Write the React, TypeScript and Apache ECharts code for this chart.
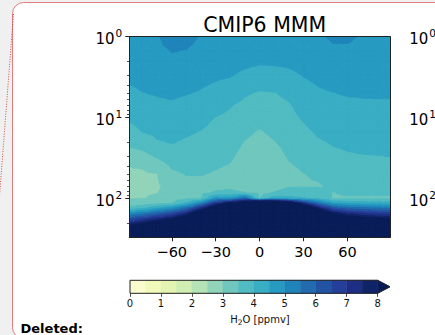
import React, { useEffect, useRef } from "react";
import * as echarts from "echarts";

const FONT = '"DejaVu Sans", sans-serif';

// Grid of the zonal-mean H2O field (ppmv): latitude x pressure (hPa)
const latitudes = [-90, -80, -70, -60, -50, -40, -30, -20, -10, 0, 10, 20, 30, 40, 50, 60, 70, 80, 90];
const pressureLevels = [1, 1.5, 2, 3, 5, 7, 10, 15, 20, 30, 40, 50, 70, 85, 100, 115, 130, 150, 175, 200, 250, 300];

const h2o_p1 = [4.9, 4.9, 4.95, 5.3, 5.2, 4.95, 4.9, 4.9, 4.9, 4.9, 4.9, 4.9, 4.9, 4.9, 5.08, 5.08, 4.95, 4.9, 4.9];
const h2o_p1_5 = [4.78, 4.8, 4.85, 5.02, 4.98, 4.83, 4.78, 4.76, 4.73, 4.71, 4.71, 4.72, 4.76, 4.79, 4.91, 4.91, 4.85, 4.81, 4.81];
const h2o_p2 = [4.7, 4.72, 4.77, 4.91, 4.87, 4.74, 4.69, 4.66, 4.61, 4.57, 4.58, 4.6, 4.66, 4.71, 4.81, 4.82, 4.77, 4.74, 4.75];
const h2o_p3 = [4.59, 4.62, 4.67, 4.76, 4.71, 4.62, 4.57, 4.53, 4.41, 4.31, 4.33, 4.4, 4.52, 4.6, 4.67, 4.69, 4.67, 4.65, 4.65];
const h2o_p5 = [4.4, 4.49, 4.53, 4.57, 4.52, 4.46, 4.36, 4.24, 4.05, 3.95, 3.98, 4.1, 4.32, 4.44, 4.49, 4.53, 4.54, 4.54, 4.54];
const h2o_p7 = [4.23, 4.34, 4.42, 4.44, 4.38, 4.31, 4.18, 4.03, 3.89, 3.8, 3.86, 3.96, 4.19, 4.33, 4.38, 4.42, 4.44, 4.45, 4.45];
const h2o_p10 = [4.06, 4.18, 4.27, 4.31, 4.23, 4.15, 3.99, 3.9, 3.75, 3.64, 3.73, 3.86, 4.05, 4.2, 4.27, 4.31, 4.33, 4.34, 4.34];
const h2o_p15 = [3.8, 4.01, 4.1, 4.15, 4.06, 3.98, 3.86, 3.78, 3.59, 3.46, 3.59, 3.74, 3.9, 4.06, 4.14, 4.18, 4.2, 4.21, 4.22];
const h2o_p20 = [3.61, 3.73, 3.96, 4.03, 3.94, 3.87, 3.76, 3.69, 3.48, 3.35, 3.48, 3.66, 3.81, 3.95, 4.04, 4.09, 4.11, 4.12, 4.13];
const h2o_p30 = [3.27, 3.33, 3.56, 3.77, 3.75, 3.71, 3.63, 3.56, 3.34, 3.19, 3.31, 3.55, 3.67, 3.78, 3.9, 3.95, 3.98, 3.99, 4.01];
const h2o_p40 = [3.01, 3.03, 3.2, 3.56, 3.62, 3.6, 3.53, 3.47, 3.23, 3.16, 3.2, 3.44, 3.57, 3.66, 3.78, 3.83, 3.85, 3.87, 3.88];
const h2o_p50 = [2.92, 2.94, 2.99, 3.39, 3.52, 3.52, 3.46, 3.39, 3.2, 3.17, 3.22, 3.34, 3.49, 3.56, 3.7, 3.75, 3.76, 3.77, 3.78];
const h2o_p70 = [2.82, 2.87, 2.94, 3.16, 3.31, 3.35, 3.36, 3.38, 3.2, 3.19, 3.27, 3.44, 3.46, 3.46, 3.57, 3.61, 3.62, 3.63, 3.63];
const h2o_p85 = [2.91, 2.93, 2.98, 3.19, 3.32, 3.37, 3.56, 3.63, 3.52, 3.32, 3.54, 3.74, 3.71, 3.67, 3.49, 3.54, 3.54, 3.54, 3.54];
const h2o_p100 = [2.99, 2.99, 3.12, 3.31, 3.44, 3.48, 4.85, 4.75, 5.75, 3.49, 4.36, 4.14, 4.06, 3.95, 3.45, 3.46, 3.46, 3.46, 3.46];
const h2o_p115 = [3.24, 3.28, 3.41, 3.49, 4.11, 5.17, 7.06, 8.45, 9.43, 11.7, 11.0, 9.54, 7.23, 5.64, 4.63, 4.42, 4.36, 4.31, 4.27];
const h2o_p130 = [3.57, 3.84, 4.29, 4.75, 5.53, 7.06, 9.03, 11.0, 12.0, 14.0, 13.0, 12.0, 9.65, 7.49, 6.1, 5.69, 5.54, 5.42, 5.34];
const h2o_p150 = [4.76, 5.17, 5.69, 6.2, 7.13, 9.2, 11.0, 13.0, 14.0, 16.0, 15.0, 14.0, 12.0, 9.6, 7.77, 7.13, 6.88, 6.69, 6.55];
const h2o_p175 = [6.03, 6.6, 7.21, 7.77, 8.87, 11.0, 13.0, 15.0, 16.0, 18.0, 17.0, 16.0, 14.0, 12.0, 9.54, 8.7, 8.32, 8.05, 7.85];
const h2o_p200 = [7.15, 7.84, 8.54, 9.12, 10.0, 13.0, 15.0, 17.0, 18.0, 20.0, 19.0, 18.0, 16.0, 14.0, 12.0, 10.5, 10.0, 9.5, 9.03];
const h2o_p250 = [9.0, 10.0, 10.0, 11.0, 12.0, 15.0, 17.0, 19.0, 20.0, 22.0, 21.0, 20.0, 18.0, 16.0, 14.0, 12.5, 12.0, 11.5, 11.0];
const h2o_p300 = [10.5, 12.0, 12.0, 13.0, 14.0, 17.0, 19.0, 21.0, 22.0, 24.0, 23.0, 22.0, 20.0, 18.0, 16.0, 14.0, 14.0, 13.0, 13.0];

const h2oRows = [
  h2o_p1, h2o_p1_5, h2o_p2, h2o_p3, h2o_p5, h2o_p7, h2o_p10, h2o_p15, h2o_p20, h2o_p30, h2o_p40,
  h2o_p50, h2o_p70, h2o_p85, h2o_p100, h2o_p115, h2o_p130, h2o_p150, h2o_p175, h2o_p200, h2o_p250, h2o_p300,
];

const contourLevels = [0, 0.5, 1, 1.5, 2, 2.5, 3, 3.5, 4, 4.5, 5, 5.5, 6, 6.5, 7, 7.5, 8];
const bandColors = [
  "#fbfdcf", "#f1fabb", "#e4f4b2", "#d0edb3", "#b5e2b6", "#91d4b9", "#6fc7bd", "#50bcc2",
  "#38adc3", "#269ac1", "#1e84ba", "#216bae", "#2354a3", "#243f99", "#1e2e85", "#0f2367",
];
const overColor = "#081d58";
const colorbarTicks = [0, 1, 2, 3, 4, 5, 6, 7, 8];
const latTicks = [-60, -30, 0, 30, 60];
const pressureMajorTicks = [1, 10, 100];
const pressureMinorTicks = [2, 3, 4, 5, 6, 7, 8, 9, 20, 30, 40, 50, 60, 70, 80, 90, 200];
const latExtent = 89;
const extendLen = 0.4;

const nBands = contourLevels.length - 1;

function bandOf(v: number): number {
  if (v >= contourLevels[nBands]) return nBands;
  let k = 0;
  while (k < nBands - 1 && v >= contourLevels[k + 1]) k++;
  return k;
}

type P3 = number[];
function clipPoly(pts: P3[], f: (v: number) => number): P3[] {
  const out: P3[] = [];
  for (let i = 0; i < pts.length; i++) {
    const a = pts[i];
    const b = pts[(i + 1) % pts.length];
    const fa = f(a[2]);
    const fb = f(b[2]);
    if (fa >= 0) out.push(a);
    if (fa >= 0 !== fb >= 0) {
      const t = fa / (fa - fb);
      out.push([a[0] + t * (b[0] - a[0]), a[1] + t * (b[1] - a[1]), a[2] + t * (b[2] - a[2])]);
    }
  }
  return out;
}

const yLabelRich = {
  b: { fontSize: 15, fontFamily: FONT, color: "#000", verticalAlign: "bottom", lineHeight: 19 },
  s: { fontSize: 10.5, fontFamily: FONT, color: "#000", verticalAlign: "top", lineHeight: 11, padding: [0, 0, 0, 1] },
};
const yLabelFormatter = (v: number) => `{b|10}{s|${Math.round(Math.log10(v))}}`;

export default function App() {
  const ref = useRef<HTMLDivElement>(null);

  useEffect(() => {
    if (!ref.current) return;
    const chart = echarts.init(ref.current, null, { renderer: "svg" });
    const logP = pressureLevels.map((p) => Math.log10(p));

    const cells: number[][] = [];
    for (let i = 0; i < latitudes.length - 1; i++) {
      for (let j = 0; j < pressureLevels.length - 1; j++) {
        cells.push([(latitudes[i] + latitudes[i + 1]) / 2, Math.pow(10, (logP[j] + logP[j + 1]) / 2), i, j]);
      }
    }

    const renderCell = (_params: any, api: any) => {
      const i = api.value(2);
      const j = api.value(3);
      const c00 = [latitudes[i], logP[j], h2oRows[j][i]];
      const c10 = [latitudes[i + 1], logP[j], h2oRows[j][i + 1]];
      const c11 = [latitudes[i + 1], logP[j + 1], h2oRows[j + 1][i + 1]];
      const c01 = [latitudes[i], logP[j + 1], h2oRows[j + 1][i]];
      const ctr = [(c00[0] + c10[0]) / 2, (c00[1] + c01[1]) / 2, (c00[2] + c10[2] + c11[2] + c01[2]) / 4];
      const tris = [
        [c00, c10, ctr],
        [c10, c11, ctr],
        [c11, c01, ctr],
        [c01, c00, ctr],
      ];
      const children: any[] = [];
      for (const tri of tris) {
        const vs = tri.map((p) => p[2]);
        const kmin = bandOf(Math.min(...vs));
        const kmax = bandOf(Math.max(...vs));
        for (let k = kmin; k <= kmax; k++) {
          let poly: P3[] = tri;
          if (k > 0) {
            const lo = contourLevels[k];
            poly = clipPoly(poly, (v) => v - lo);
          }
          if (k < nBands) {
            const hi = contourLevels[k + 1];
            poly = clipPoly(poly, (v) => hi - v);
          }
          if (poly.length < 3) continue;
          const pts = poly.map((p) => api.coord([p[0], Math.pow(10, p[1])]));
          const color = k >= nBands ? overColor : bandColors[k];
          children.push({
            type: "polygon",
            shape: { points: pts },
            style: { fill: color, stroke: color, lineWidth: 1, lineJoin: "round" },
          });
        }
      }
      return { type: "group", children };
    };

    const cbItems: number[][] = contourLevels.slice(0, -1).map((lo, k) => [lo, contourLevels[k + 1], k, 0.5]);
    cbItems.push([contourLevels[nBands], contourLevels[nBands], nBands, 0.5]);

    const renderColorbar = (_params: any, api: any) => {
      const lo = api.value(0);
      const hi = api.value(1);
      const k = api.value(2);
      if (k >= nBands) {
        const pts = [api.coord([lo, 0]), api.coord([lo + extendLen, 0.5]), api.coord([lo, 1])];
        return { type: "polygon", shape: { points: pts }, style: { fill: overColor, stroke: overColor, lineWidth: 0.5 } };
      }
      const p0 = api.coord([lo, 1]);
      const p1 = api.coord([hi, 0]);
      return {
        type: "rect",
        shape: { x: p0[0], y: p0[1], width: p1[0] - p0[0], height: p1[1] - p0[1] },
        style: { fill: bandColors[k], stroke: bandColors[k], lineWidth: 0.5 },
      };
    };

    const renderOutline = (_params: any, api: any) => {
      const top = contourLevels[nBands];
      const pts = [
        api.coord([0, 0]),
        api.coord([top, 0]),
        api.coord([top + extendLen, 0.5]),
        api.coord([top, 1]),
        api.coord([0, 1]),
        api.coord([0, 0]),
      ];
      return { type: "polyline", shape: { points: pts }, style: { fill: "none", stroke: "#222", lineWidth: 1 } };
    };

    const axisLineStyle = { color: "#222", width: 1 };
    const latFormatter = (v: number) => (v < 0 ? "\u2212" + Math.abs(v) : String(v));

    const option: any = {
      animation: false,
      backgroundColor: "transparent",
      title: {
        text: "CMIP6 MMM",
        left: 259.7,
        top: 9,
        textAlign: "center",
        textStyle: { fontFamily: FONT, fontSize: 20.5, fontWeight: "normal", color: "#000" },
      },
      grid: [
        { left: 129.3, top: 36.7, width: 260.7, height: 200.6 },
        { left: 443, top: 36.7, width: 200, height: 200.6 },
        { left: 130, top: 280.3, width: 260, height: 13 },
      ],
      xAxis: [
        {
          gridIndex: 0, type: "value", min: -latExtent, max: latExtent, z: 10,
          axisLine: { show: true, onZero: false, lineStyle: axisLineStyle },
          axisTick: { show: true, customValues: latTicks, length: 4, lineStyle: axisLineStyle },
          axisLabel: { customValues: latTicks, formatter: latFormatter, fontSize: 14.5, fontFamily: FONT, color: "#000", margin: 7 },
          splitLine: { show: false },
        },
        {
          gridIndex: 0, type: "value", position: "top", min: -latExtent, max: latExtent, z: 10,
          axisLine: { show: true, onZero: false, lineStyle: axisLineStyle },
          axisTick: { show: false }, axisLabel: { show: false }, splitLine: { show: false },
        },
        { gridIndex: 1, type: "value", min: -latExtent, max: latExtent, show: false },
        {
          gridIndex: 2, type: "value", min: 0, max: contourLevels[nBands] + extendLen,
          axisLine: { show: false, onZero: false },
          axisTick: { show: true, customValues: colorbarTicks, length: 3.5, lineStyle: { color: "#222", width: 0.8 } },
          axisLabel: { customValues: colorbarTicks, fontSize: 10, fontFamily: FONT, color: "#111", margin: 5 },
          splitLine: { show: false },
          name: "{a|H}{s|2}{a|O [ppmv]}",
          nameLocation: "middle",
          nameGap: 21,
          nameTextStyle: {
            rich: {
              a: { fontSize: 10, fontFamily: FONT, color: "#111", lineHeight: 12, verticalAlign: "top" },
              s: { fontSize: 7.5, fontFamily: FONT, color: "#111", lineHeight: 8, verticalAlign: "bottom", padding: [4, 0, 0, 0] },
            },
          },
        },
      ],
      yAxis: [
        {
          gridIndex: 0, type: "log", logBase: 10, min: 1, max: 300, inverse: true, z: 10,
          axisLine: { show: true, onZero: false, lineStyle: axisLineStyle },
          axisTick: { show: true, customValues: pressureMajorTicks, length: 4, lineStyle: axisLineStyle },
          axisLabel: { customValues: pressureMajorTicks, formatter: yLabelFormatter, rich: yLabelRich, margin: 7 },
          splitLine: { show: false },
        },
        {
          gridIndex: 0, type: "log", logBase: 10, min: 1, max: 300, inverse: true, z: 10, offset: 0, position: "left",
          axisLine: { show: false, onZero: false },
          axisTick: { show: true, customValues: pressureMinorTicks, length: 2.3, lineStyle: { color: "#222", width: 0.8 } },
          axisLabel: { show: false },
          splitLine: { show: false },
        },
        {
          gridIndex: 0, type: "log", logBase: 10, min: 1, max: 300, inverse: true, position: "right", z: 10,
          axisLine: { show: true, onZero: false, lineStyle: axisLineStyle },
          axisTick: { show: false }, axisLabel: { show: false }, splitLine: { show: false },
        },
        {
          gridIndex: 1, type: "log", logBase: 10, min: 1, max: 300, inverse: true,
          axisLine: { show: true, onZero: false, lineStyle: axisLineStyle },
          axisTick: { show: true, customValues: pressureMajorTicks, length: 4, lineStyle: axisLineStyle },
          axisLabel: { customValues: pressureMajorTicks, formatter: yLabelFormatter, rich: yLabelRich, margin: 7 },
          splitLine: { show: false },
        },
        { gridIndex: 2, type: "value", min: 0, max: 1, show: false },
      ],
      graphic: [
        {
          type: "rect", z: -10, silent: true,
          shape: { x: 12.5, y: 2.5, width: 440, height: 336, r: 11 },
          style: { fill: "#ffffff", stroke: "#e27d7d", lineWidth: 1 },
        },
        {
          type: "line", z: -9, silent: true,
          shape: { x1: 13.5, y1: 14, x2: -0.5, y2: 196 },
          style: { stroke: "#d44a4a", lineWidth: 1, lineDash: [1, 1.5] },
        },
        {
          type: "text", z: 5, silent: true,
          style: { text: "Deleted:", x: 20.5, y: 334.5, verticalAlign: "bottom", font: 'bold 13px "DejaVu Sans", sans-serif', fill: "#000" },
        },
      ],
      series: [
        {
          type: "custom", name: "H2O", xAxisIndex: 0, yAxisIndex: 0, clip: true, z: 2,
          data: cells, encode: { x: 0, y: 1 }, renderItem: renderCell,
        },
        {
          type: "custom", name: "colorbar", xAxisIndex: 3, yAxisIndex: 4, clip: false, z: 2,
          data: cbItems, encode: { x: 0, y: 3 }, renderItem: renderColorbar,
        },
        {
          type: "custom", name: "colorbar-outline", xAxisIndex: 3, yAxisIndex: 4, clip: false, z: 3,
          data: [[0, 0.5]], encode: { x: 0, y: 1 }, renderItem: renderOutline,
        },
      ],
    };

    chart.setOption(option);
    return () => chart.dispose();
  }, []);

  return (
    <div
      ref={ref}
      style={{ position: "fixed", left: 0, top: 0, width: 435, height: 335, background: "#f0f0f0" }}
    />
  );
}
